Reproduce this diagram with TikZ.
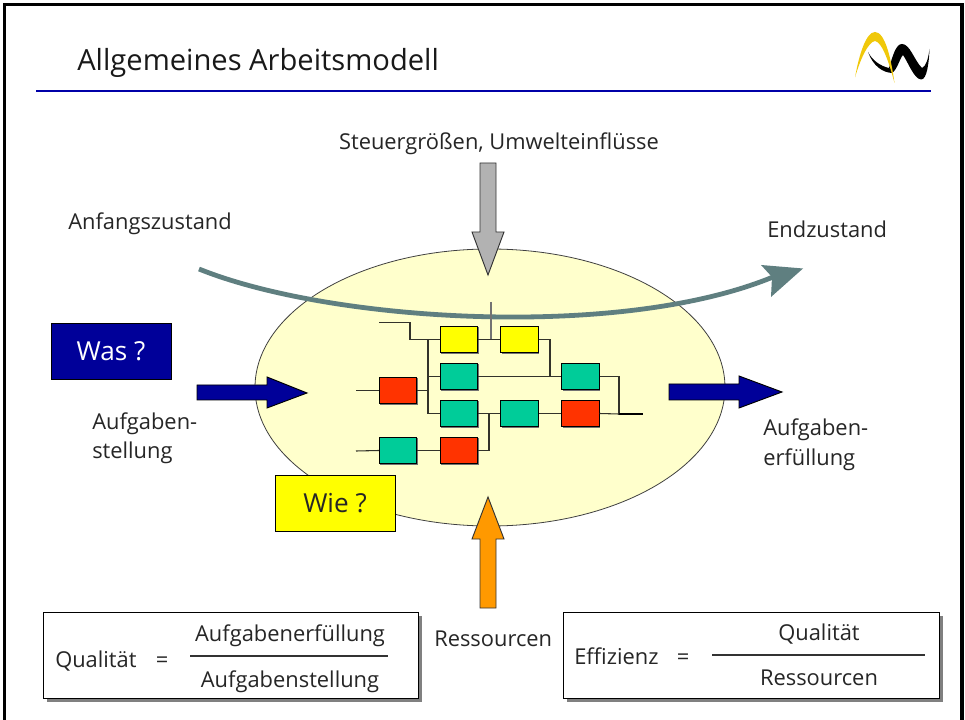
\documentclass[tikz,border=0pt]{standalone}
\usepackage{fontspec}
\setmainfont{Open Sans}
\usetikzlibrary{shadows,shapes.geometric}
\definecolor{ellfill}{HTML}{FFFFCC}
\definecolor{gruen}{HTML}{00CC99}
\definecolor{rot}{HTML}{FF3300}
\definecolor{gelb}{HTML}{FFFF00}
\definecolor{tealb}{HTML}{5F7F80}
\definecolor{navyb}{HTML}{000099}
\definecolor{orangea}{HTML}{FF9900}
\definecolor{wire}{HTML}{33332A}
\definecolor{logog}{HTML}{F0C80A}
\tikzset{
 x=0.75pt,y=-0.75pt,
 txt/.style={font=\fontsize{16.4pt}{19pt}\selectfont,anchor=base,inner sep=0pt,text=black!85},
 txtl/.style={txt,anchor=base west},
 proc/.style={draw=black,line width=0.7pt,minimum width=28pt,minimum height=20pt,inner sep=0pt,drop shadow={shadow xshift=0.7pt,shadow yshift=-0.7pt,fill=black!55,opacity=1}},
 gy/.style={proc,fill=gelb},
 gn/.style={proc,fill=gruen},
 rd/.style={proc,fill=rot},
 wl/.style={draw=wire,line width=0.8pt},
 fat/.style={draw=black,line width=0.7pt},
 formula/.style={draw=black,fill=white,line width=0.8pt,inner sep=0pt,minimum height=65pt,minimum width=281.5pt,drop shadow={shadow xshift=2.5pt,shadow yshift=-2.5pt,fill=black!50,opacity=1}},
 tag/.style={draw=black,line width=0.7pt,minimum width=90pt,minimum height=42pt,inner sep=0pt,font=\fontsize{19.6pt}{22pt}\selectfont},
}
\begin{document}
\begin{tikzpicture}
\useasboundingbox (0,0) rectangle (965,720);
\clip (0,0) rectangle (965,720);
\fill[white] (0,0) rectangle (965,720);
\draw[black,line width=2.6pt] (4.5,4.5) rectangle (962,740);
\draw[draw=navyb!85!blue,line width=1.3pt] (36,91) -- (931,91);
\node[font=\fontsize{21.85pt}{26pt}\selectfont,anchor=base west,inner sep=0pt,text=black!90] (title) at (77,71) {Allgemeines Arbeitsmodell};
% logo
\fill[black] (868,52) .. controls (873,66) and (883,73) .. (893,73) .. controls (891,71) and (890,69) .. (889,68) .. controls (880,66) and (872,60) .. (868,52) -- cycle;
\fill[black] (889,68) .. controls (893,55) and (896,44) .. (902,44) .. controls (910,44) and (914,60) .. (922,68) .. controls (926,66) and (928,60) .. (929.5,49) .. controls (929,62) and (927,80) .. (921,79.5) .. controls (914,79) and (908,62) .. (903,55) .. controls (900,58) and (897,70) .. (892,73) -- cycle;
\fill[logog] (855,77.5) .. controls (859,55) and (866,32) .. (875,32) .. controls (885,32) and (891,58) .. (894.5,83) .. controls (889,62) and (882,42) .. (875,41) .. controls (868,42) and (860,60) .. (855,77.5) -- cycle;
% ellipse
\node[draw=black!75,line width=0.6pt,fill=ellfill,ellipse,minimum width=352.5pt,minimum height=207.75pt,inner sep=0pt] (feld) at (490,387.5) {};
% big curve
\draw[tealb,line width=3.6pt] (199,269) .. controls (330,322) and (620,340) .. (773,277);
\fill[tealb] (803,268.5) -- (761,265) -- (772,277) -- (771,297) -- cycle;
% wires
\coordinate (topin) at (379,322.5);
\coordinate (topknick) at (410,322.5);
\coordinate (bus) at (428,339.5);
\coordinate (ytop) at (491,302);
\coordinate (rin) at (356,390.5);
\coordinate (gin) at (356,451);
\coordinate (outend) at (643,414);
\coordinate (outv) at (619,376.5);
\coordinate (y2v) at (550,339.5);
\coordinate (joinv) at (489,414);
\node[gy] (y1) at (459,339.5) {};
\node[gy] (y2) at (519.5,339.5) {};
\node[gn] (g2) at (459,376.5) {};
\node[gn] (g2r) at (580.5,376.5) {};
\node[rd] (r1) at (398,390.5) {};
\node[gn] (g3) at (459,413.5) {};
\node[gn] (g3m) at (519.5,413.5) {};
\node[rd] (r3) at (580.5,413.5) {};
\node[gn] (g4) at (398,450.5) {};
\node[rd] (r4) at (459,450.5) {};
\draw[wl] (topin) -- (topknick) |- (y1.west);
\draw[wl] (bus) |- (g3.west);
\draw[wl] (428,376.5) -- (g2.west);
\draw[wl] (rin) -- (r1.west);
\draw[wl] (r1.east) -- (428,390.5);
\draw[wl] (y1.east) -- (y2.west);
\draw[wl,draw=black!55] (ytop) -- (491,339.5);
\draw[wl] (y2.east) -- (y2v) |- (g2r.west);
\draw[wl] (g2.east) -- (g2r.west);
\draw[wl] (g2r.east) -- (outv) |- (outend);
\draw[wl] (r3.east) -- (619,414);
\draw[black,line width=1.2pt] (619,414) -- (outend);
\draw[wl] (g3.east) -- (g3m.west);
\draw[wl] (r4.east) -- (489,450.5) -- (joinv);
\draw[wl] (g3m.east) -- (r3.west);
\draw[wl] (gin) -- (g4.west);
\draw[wl] (g4.east) -- (r4.west);
% block arrows
\filldraw[fat,draw=black!80,fill=black!30] (480,163) -- (496,163) -- (496,232) -- (504,232) -- (488,275) -- (472,232) -- (480,232) -- cycle;
\filldraw[fat,fill=navyb] (197,385) -- (267,385) -- (267,377) -- (307,393) -- (267,408) -- (267,400) -- (197,400) -- cycle;
\filldraw[fat,fill=navyb] (669,384) -- (739,384) -- (739,376) -- (782,392) -- (739,408) -- (739,400) -- (669,400) -- cycle;
\filldraw[fat,draw=black!80,fill=orangea] (480,608) -- (496,608) -- (496,539) -- (504,539) -- (488,497) -- (472,539) -- (480,539) -- cycle;
% tags
\node[tag,fill=navyb,text=white] (was) at (111,351) {\raisebox{-1pt}{Was ?}};
\node[tag,fill=gelb,text=black!85] (wie) at (335,503) {\raisebox{-1pt}{Wie ?}};
% labels
\node[txt] (steuer) at (499,150) {Steuergrößen, Umwelteinflüsse};
\node[txtl] (anfang) at (68,230) {Anfangszustand};
\node[txtl] (end) at (767,238) {Endzustand};
\node[txtl] (auf1a) at (92,430) {Aufgaben-};
\node[txtl] (auf1b) at (92,459) {stellung};
\node[txtl] (auf2a) at (763,436) {Aufgaben-};
\node[txtl] (auf2b) at (763,465) {erfüllung};
\node[txtl] (res) at (434,646) {Ressourcen};
% formulas
\node[formula] (qbox) at (231,655.5) {};
\node[formula] (ebox) at (751.5,655.5) {};
\node[txtl] (ql) at (55,667) {Qualität};
\node[txt] (qeq) at (162,667) {=};
\node[txt] (qo) at (290,641) {Aufgabenerfüllung};
\node[txt] (qu) at (290,687) {Aufgabenstellung};
\coordinate (qa) at (190,656);
\coordinate (qb) at (388,656);
\draw[black!80,line width=0.8pt] (qa) -- (qb);
\node[txtl] (el) at (574,664) {Effizienz};
\node[txt] (eeq) at (683,664) {=};
\node[txt] (eo) at (819,640) {Qualität};
\node[txt] (eu) at (819,685) {Ressourcen};
\coordinate (ea) at (712,655);
\coordinate (eb) at (925,655);
\draw[black!80,line width=0.8pt] (ea) -- (eb);
\end{tikzpicture}
\end{document}
